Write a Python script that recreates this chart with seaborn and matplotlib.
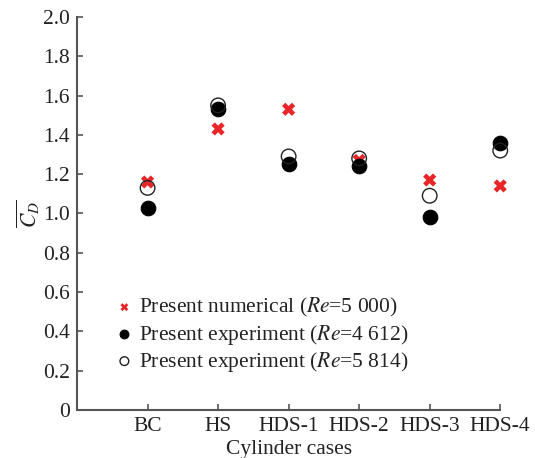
import matplotlib
matplotlib.use("Agg")
import matplotlib.pyplot as plt
import seaborn as sns
import pandas as pd
import numpy as np

cases = ["BC", "HS", "HDS-1", "HDS-2", "HDS-3", "HDS-4"]
numerical_5000 = [1.16, 1.43, 1.53, 1.27, 1.17, 1.14]
experiment_4612 = [1.03, 1.53, 1.25, 1.24, 0.98, 1.36]
experiment_5814 = [1.13, 1.55, 1.29, 1.28, 1.09, 1.32]
yticks = [0, 0.2, 0.4, 0.6, 0.8, 1.0, 1.2, 1.4, 1.6, 1.8, 2.0]
ytick_labels = ["0", "0.2", "0.4", "0.6", "0.8", "1.0", "1.2", "1.4", "1.6", "1.8", "2.0"]

sns.set_style("ticks")
plt.rcParams['font.family'] = ['Liberation Serif', 'DejaVu Serif']
plt.rcParams['mathtext.fontset'] = 'stix'

FS = 15.5
pos = np.arange(1, len(cases) + 1)
df = pd.DataFrame({"pos": pos, "num": numerical_5000,
                   "e1": experiment_4612, "e2": experiment_5814})

fig = plt.figure(figsize=(5.35, 4.58), dpi=100)
ax = fig.add_axes([0.144, 0.105, 0.791, 0.858])

sns.scatterplot(data=df, x="pos", y="num", ax=ax, marker="X", s=90,
                color="#e8262a", edgecolor="none", linewidth=0,
                label=r"Present numerical ($\mathit{Re}$=5 000)", zorder=2,
                clip_on=False)
sns.scatterplot(data=df, x="pos", y="e1", ax=ax, marker="o", s=110,
                color="black", edgecolor="black", linewidth=0.8,
                label=r"Present experiment ($\mathit{Re}$=4 612)", zorder=3,
                clip_on=False)
sns.scatterplot(data=df, x="pos", y="e2", ax=ax, marker="o", s=110,
                facecolor="none", edgecolor="#222222", linewidth=1.0,
                label=r"Present experiment ($\mathit{Re}$=5 814)", zorder=4,
                clip_on=False)

ax.set_xlim(0, 6)
ax.set_ylim(0, 2.0)
ax.set_xticks(pos)
ax.set_xticklabels(cases)
ax.set_yticks(yticks)
ax.set_yticklabels(ytick_labels)
ax.tick_params(direction="in", length=4, width=1.2, colors="#555555",
               labelcolor="#222222", labelsize=FS, pad=5)
for side in ["top", "right"]:
    ax.spines[side].set_visible(False)
for side in ["left", "bottom"]:
    ax.spines[side].set_color("#555555")
    ax.spines[side].set_linewidth(1.5)

ax.set_xlabel("Cylinder cases", fontsize=FS, color="#222222", labelpad=3)
ax.set_ylabel(r"$\overline{C_D}$", fontsize=FS, color="#222222", labelpad=1)

leg = ax.legend(loc="lower left", bbox_to_anchor=(0.061, 0.07), frameon=False,
                fontsize=FS, markerscale=0.6, handletextpad=0.1,
                labelspacing=0.15, borderaxespad=0, handlelength=1.2)
for t in leg.get_texts():
    t.set_color("#222222")

fig.savefig("out.png", dpi=100)
